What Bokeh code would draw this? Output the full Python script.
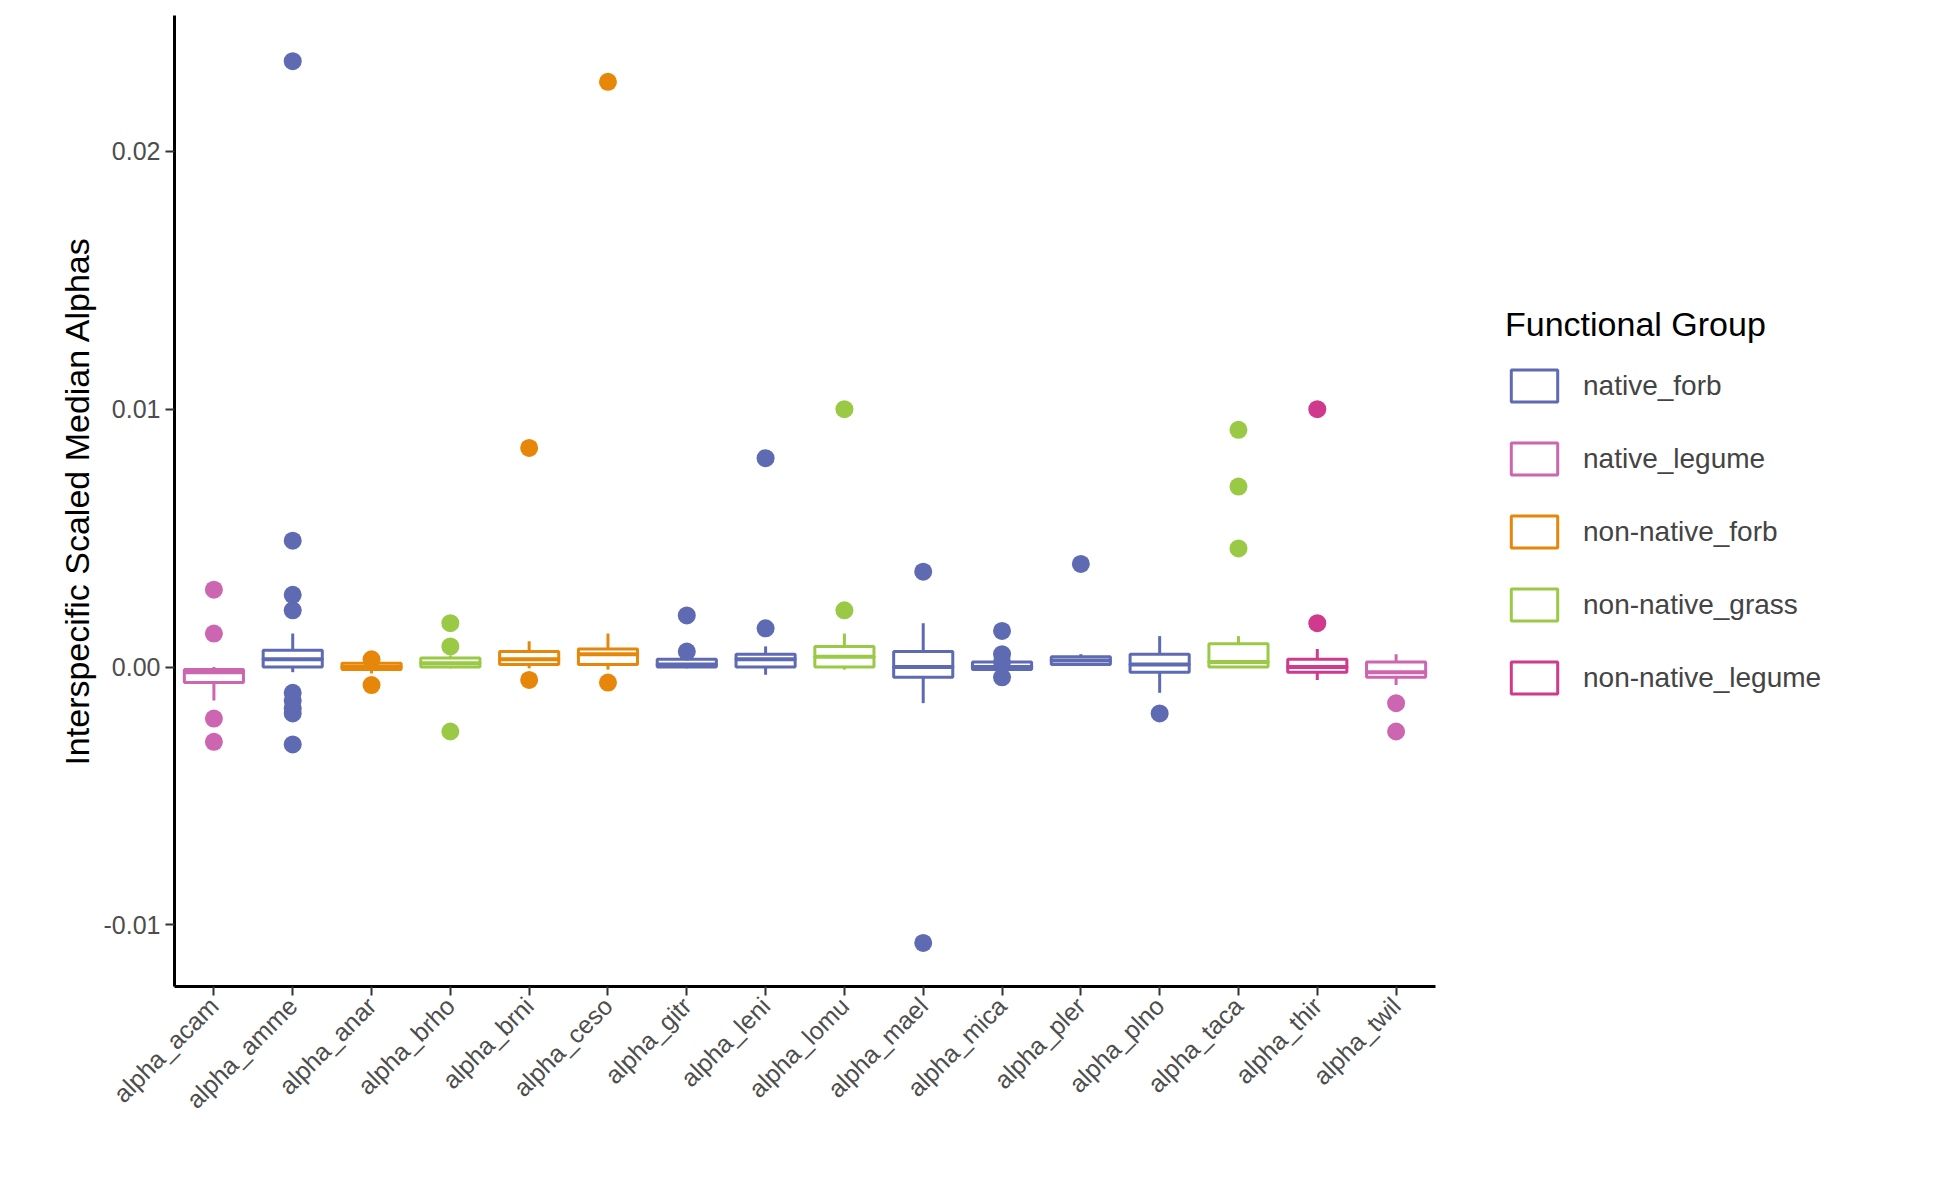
from math import pi
from bokeh.plotting import figure
from bokeh.models import ColumnDataSource, Legend, LegendItem, Range1d
from bokeh.embed import file_html
from bokeh.resources import INLINE

species = ["alpha_acam", "alpha_amme", "alpha_anar", "alpha_brho", "alpha_brni",
           "alpha_ceso", "alpha_gitr", "alpha_leni", "alpha_lomu", "alpha_mael",
           "alpha_mica", "alpha_pler", "alpha_plno", "alpha_taca", "alpha_thir",
           "alpha_twil"]
group = ["native_legume", "native_forb", "non-native_forb", "non-native_grass",
         "non-native_forb", "non-native_forb", "native_forb", "native_forb",
         "non-native_grass", "native_forb", "native_forb", "native_forb",
         "native_forb", "non-native_grass", "non-native_legume", "native_legume"]
# values in units of 1e-3
q1 = [-0.6, 0.0, -0.1, 0.0, 0.1, 0.1, 0.0, 0.0, 0.0, -0.4, -0.1, 0.1, -0.2, 0.0, -0.2, -0.4]
med = [-0.2, 0.3, 0.0, 0.15, 0.3, 0.5, 0.1, 0.3, 0.4, 0.0, 0.0, 0.25, 0.1, 0.2, 0.0, -0.2]
q3 = [-0.1, 0.65, 0.15, 0.35, 0.6, 0.7, 0.3, 0.5, 0.8, 0.6, 0.2, 0.4, 0.5, 0.9, 0.3, 0.2]
lo = [-1.3, -0.2, -0.25, -0.05, -0.05, -0.1, -0.05, -0.3, -0.1, -1.4, -0.2, 0.05, -1.0, 0.0, -0.5, -0.7]
hi = [0.0, 1.3, 0.3, 0.45, 1.0, 1.3, 0.35, 0.8, 1.3, 1.7, 0.3, 0.5, 1.2, 1.2, 0.7, 0.5]
outliers = [
    [3.0, 1.3, -2.0, -2.9],
    [23.5, 4.9, 2.8, 2.2, -1.0, -1.3, -1.6, -1.8, -3.0],
    [0.3, -0.7],
    [1.7, 0.8, -2.5],
    [8.5, -0.5],
    [22.7, -0.6],
    [2.0, 0.6],
    [8.1, 1.5],
    [10.0, 2.2],
    [3.7, -10.7],
    [1.4, 0.5, 0.2, -0.4],
    [4.0],
    [-1.8],
    [9.2, 7.0, 4.6],
    [10.0, 1.7],
    [-1.4, -2.5],
]
groups = ["native_forb", "native_legume", "non-native_forb", "non-native_grass", "non-native_legume"]
colors = {"native_forb": "#5E6AB2", "native_legume": "#CC66B0", "non-native_forb": "#E6870A",
          "non-native_grass": "#9ACA45", "non-native_legume": "#CF3A8D"}

font = "Liberation Sans"
p = figure(x_range=species, y_range=Range1d(-0.01239, 0.02527),
           frame_width=1261, frame_height=971, min_border_left=174, min_border_top=15,
           min_border_bottom=194, min_border_right=0,
           output_backend="svg", toolbar_location=None)
p.grid.visible = False
p.outline_line_color = None

items = []
for g in groups:
    idx = [i for i in range(len(species)) if group[i] == g]
    c = colors[g]
    src = ColumnDataSource(dict(
        x=[species[i] for i in idx],
        q1=[q1[i] * 1e-3 for i in idx], med=[med[i] * 1e-3 for i in idx],
        q3=[q3[i] * 1e-3 for i in idx], lo=[lo[i] * 1e-3 for i in idx],
        hi=[hi[i] * 1e-3 for i in idx]))
    p.segment("x", "q3", "x", "hi", source=src, line_color=c, line_width=3)
    p.segment("x", "lo", "x", "q1", source=src, line_color=c, line_width=3)
    r = p.vbar(x="x", bottom="q1", top="q3", width=0.75, source=src,
               fill_color="white", line_color=c, line_width=3)
    p.rect(x="x", y="med", width=0.75, height=1, height_units="screen", source=src,
           fill_color=c, line_color=c, line_width=3)
    ox, oy = [], []
    for i in idx:
        ox += [species[i]] * len(outliers[i])
        oy += [v * 1e-3 for v in outliers[i]]
    p.scatter(ox, oy, size=18, color=c, line_color=None)
    items.append(LegendItem(label=g, renderers=[r]))

legend = Legend(items=items, title="Functional Group", location="center_left",
                label_text_font=font, label_text_font_size="28px",
                title_text_font=font, title_text_font_size="34px",
                title_text_font_style="normal", title_text_color="black",
                title_standoff=22, glyph_width=58, glyph_height=40,
                spacing=33, label_standoff=20, margin=0, padding=0,
                border_line_color=None, background_fill_alpha=0)
p.add_layout(legend, "right")
p.min_border_right = 0

p.yaxis.ticker = [-0.01, 0.0, 0.01, 0.02]
p.yaxis.major_label_overrides = {-0.01: "-0.01", 0.0: "0.00", 0.01: "0.01", 0.02: "0.02"}
p.yaxis.axis_label = "Interspecific Scaled Median Alphas"
p.yaxis.axis_label_text_font = font
p.yaxis.axis_label_text_font_size = "34px"
p.yaxis.axis_label_text_font_style = "normal"
p.yaxis.axis_label_text_color = "black"
p.xaxis.major_label_orientation = pi / 4
for ax in (p.xaxis, p.yaxis):
    ax.axis_line_color = "black"
    ax.axis_line_width = 3
    ax.major_tick_line_color = "#333333"
    ax.major_tick_line_width = 2
    ax.major_tick_out = 9
    ax.major_tick_in = 0
    ax.minor_tick_line_color = None
    ax.major_label_text_font = font
    ax.major_label_text_font_size = "25px"
    ax.major_label_text_color = "#4D4D4D"
p.xaxis.major_label_standoff = 6

# push legend away from the frame
from bokeh.models import Spacer  # noqa: F401
legend.margin = 70

open("out.html", "w").write(file_html(p, INLINE))
